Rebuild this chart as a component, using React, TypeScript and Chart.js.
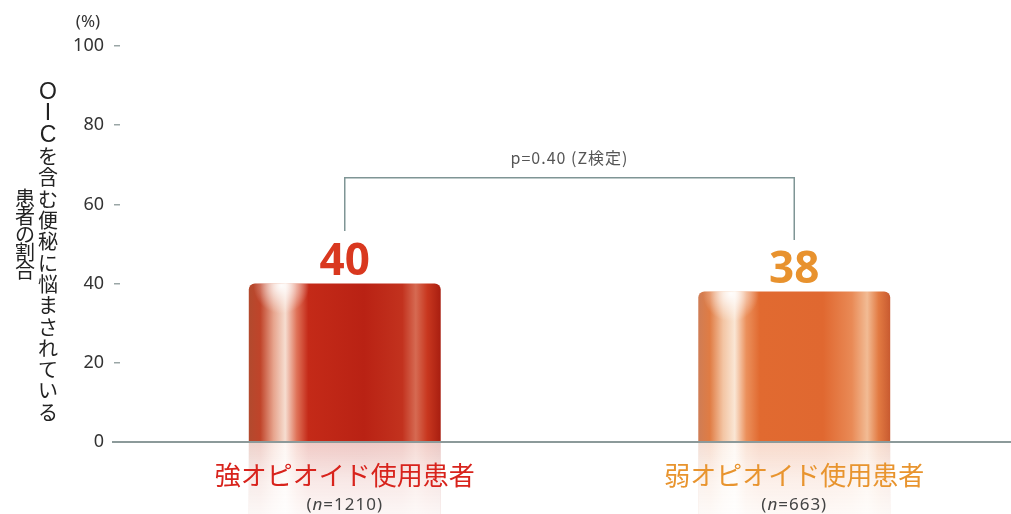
import React, { useEffect, useRef } from "react";
import { Chart, registerables } from "chart.js";

Chart.register(...registerables);

const categories = ["強オピオイド使用患者", "弱オピオイド使用患者"];
const sampleSizes = ["1210", "663"];
const values = [40, 38];
const yTicks = [0, 20, 40, 60, 80, 100];
const bracketTop = 66.7;
const bracketEnds = [53.3, 51];
const pText = "p=0.40 (Z検定)";
const yTitleCol1 = "OIC";
const yTitleCol1b = "を含む便秘に悩まされている";
const yTitleCol2 = "患者の割合";
const unitText = "(%)";

const labelColors = ["#d8231c", "#e8942e"];
const valueColors = ["#d9381f", "#e8922e"];

const BAR_PCT = 0.427;
const JP = '"Noto Sans CJK JP", "Noto Sans", sans-serif';

const redStops: [number, string][] = [
  [0, "#b24a2e"],
  [0.06, "#c0442a"],
  [0.13, "#e7a58e"],
  [0.19, "#f6ddd0"],
  [0.25, "#df7258"],
  [0.31, "#c42a18"],
  [0.6, "#b92214"],
  [0.8, "#c2321e"],
  [0.87, "#d66a52"],
  [0.93, "#c8371f"],
  [1, "#a81e10"],
];
const orangeStops: [number, string][] = [
  [0, "#cf7d55"],
  [0.06, "#e07c44"],
  [0.13, "#f3c5a4"],
  [0.19, "#fae6d4"],
  [0.25, "#eb905c"],
  [0.32, "#e16a30"],
  [0.65, "#e06830"],
  [0.8, "#e98a56"],
  [0.88, "#f2bb94"],
  [0.94, "#e27a42"],
  [1, "#c85a30"],
];
const stopsFor = [redStops, orangeStops];

function barGeom(chart: any, i: number) {
  const xs = chart.scales.x;
  const cx = xs.getPixelForValue(i);
  const w = (chart.chartArea.width / categories.length) * BAR_PCT;
  return { x0: cx - w / 2, x1: cx + w / 2, cx, w };
}

function makeGradient(ctx: CanvasRenderingContext2D, x0: number, x1: number, stops: [number, string][]) {
  const g = ctx.createLinearGradient(x0, 0, x1, 0);
  stops.forEach(([o, c]) => g.addColorStop(o, c));
  return g;
}

const decorPlugin = {
  id: "decor",
  beforeDraw(chart: any) {
    const ctx = chart.ctx as CanvasRenderingContext2D;
    const ys = chart.scales.y;
    const base = ys.getPixelForValue(0);
    const H = chart.height;
    ctx.save();
    categories.forEach((_, i) => {
      const { x0, x1, w } = barGeom(chart, i);
      ctx.globalAlpha = 0.28;
      ctx.fillStyle = makeGradient(ctx, x0, x1, stopsFor[i]);
      ctx.fillRect(x0, base, w, H - base);
      ctx.globalAlpha = 1;
      const fade = ctx.createLinearGradient(0, base, 0, H);
      fade.addColorStop(0, "rgba(255,255,255,0.1)");
      fade.addColorStop(0.5, "rgba(255,255,255,0.6)");
      fade.addColorStop(1, "rgba(255,255,255,0.85)");
      ctx.fillStyle = fade;
      ctx.fillRect(x0, base, w, H - base);
    });
    ctx.restore();
  },
  afterDatasetsDraw(chart: any) {
    const ctx = chart.ctx as CanvasRenderingContext2D;
    const ys = chart.scales.y;
    const meta = chart.getDatasetMeta(0);
    const base = ys.getPixelForValue(0);
    ctx.save();
    ctx.strokeStyle = "#8c9a9a";
    ctx.lineWidth = 2;
    ctx.beginPath();
    ctx.moveTo(112, base);
    ctx.lineTo(chart.width, base);
    ctx.stroke();

    meta.data.forEach((bar: any, i: number) => {
      const { x0, w, cx } = barGeom(chart, i);
      const top = bar.y;
      ctx.save();
      ctx.beginPath();
      ctx.rect(x0, top, w, base - top);
      ctx.clip();
      const gx = x0 + w * 0.17;
      const rg = ctx.createRadialGradient(gx, top + 2, 0, gx, top + 2, 28);
      rg.addColorStop(0, "rgba(255,255,255,0.95)");
      rg.addColorStop(1, "rgba(255,255,255,0)");
      ctx.fillStyle = rg;
      ctx.fillRect(x0, top, w, 40);
      ctx.restore();

      ctx.fillStyle = valueColors[i];
      ctx.font = `bold 44px "Noto Sans", sans-serif`;
      ctx.textAlign = "center";
      ctx.textBaseline = "alphabetic";
      ctx.fillText(String(values[i]), cx, top - 9);

      ctx.save();
      (ctx as any).letterSpacing = "1px";
      ctx.fillStyle = "#444";
      ctx.textBaseline = "middle";
      const pre = "(";
      const nn = "n";
      const post = `=${sampleSizes[i]})`;
      const reg = `17px "Noto Sans", sans-serif`;
      const ita = `italic 17px "Noto Sans", sans-serif`;
      ctx.font = reg;
      const wPre = ctx.measureText(pre).width;
      const wPost = ctx.measureText(post).width;
      ctx.font = ita;
      const wN = ctx.measureText(nn).width;
      const total = wPre + wN + wPost;
      let sx = cx - total / 2;
      const sy = 505;
      ctx.textAlign = "left";
      ctx.font = reg;
      ctx.fillText(pre, sx, sy);
      sx += wPre;
      ctx.font = ita;
      ctx.fillText(nn, sx, sy);
      sx += wN;
      ctx.font = reg;
      ctx.fillText(post, sx, sy);
      ctx.restore();
    });

    const xL = chart.scales.x.getPixelForValue(0);
    const xR = chart.scales.x.getPixelForValue(1);
    const yT = ys.getPixelForValue(bracketTop);
    ctx.strokeStyle = "#7f9595";
    ctx.lineWidth = 1.5;
    ctx.beginPath();
    ctx.moveTo(xL, ys.getPixelForValue(bracketEnds[0]));
    ctx.lineTo(xL, yT);
    ctx.lineTo(xR, yT);
    ctx.lineTo(xR, ys.getPixelForValue(bracketEnds[1]));
    ctx.stroke();
    ctx.save();
    (ctx as any).letterSpacing = "1px";
    ctx.fillStyle = "#555";
    ctx.font = `16px ${JP}`;
    ctx.textAlign = "center";
    ctx.textBaseline = "middle";
    ctx.fillText(pText, (xL + xR) / 2, yT - 20);
    ctx.restore();

    ctx.fillStyle = "#333";
    ctx.textAlign = "center";
    ctx.textBaseline = "middle";
    ctx.font = `17px "Noto Sans", sans-serif`;
    ctx.fillText(unitText, 88, 22);

    ctx.fillStyle = "#222";
    const step1 = 21.3;
    const col1 = Array.from(yTitleCol1).concat(Array.from(yTitleCol1b));
    col1.forEach((ch, k) => {
      ctx.font = k < yTitleCol1.length ? `23px "Liberation Sans", sans-serif` : `20px ${JP}`;
      ctx.fillText(ch, 48, 82 + step1 / 2 + k * step1);
    });
    ctx.font = `20px ${JP}`;
    const step2 = 17.8;
    Array.from(yTitleCol2).forEach((ch, k) => {
      ctx.fillText(ch, 25, 190 + step2 / 2 + k * step2);
    });
    ctx.restore();
  },
};

export default function App() {
  const ref = useRef<HTMLCanvasElement>(null);
  useEffect(() => {
    if (!ref.current) return;
    const chart = new Chart(ref.current, {
      type: "bar",
      data: {
        labels: categories,
        datasets: [
          {
            data: values,
            backgroundColor: (c: any) => {
              const ch = c.chart;
              if (!ch.chartArea || !ch.scales.x) return "#c0281a";
              const { x0, x1 } = barGeom(ch, c.dataIndex);
              return makeGradient(ch.ctx, x0, x1, stopsFor[c.dataIndex]);
            },
            borderWidth: 0,
            borderRadius: 6,
            borderSkipped: "bottom",
            categoryPercentage: 1,
            barPercentage: BAR_PCT,
          },
        ],
      },
      options: {
        responsive: false,
        animation: false,
        devicePixelRatio: 1,
        layout: { padding: { top: 46, right: 0, bottom: 0, left: 0 } },
        plugins: { legend: { display: false }, tooltip: { enabled: false } },
        scales: {
          x: {
            type: "category",
            grid: { display: false, drawTicks: false },
            border: { display: false },
            ticks: {
              color: (c: any) => labelColors[c.index],
              font: { size: 26, family: JP },
              padding: 18,
            },
            afterFit: (axis: any) => {
              axis.height = 72;
            },
          },
          y: {
            min: 0,
            max: 100,
            afterBuildTicks: (axis: any) => {
              axis.ticks = yTicks.map((v) => ({ value: v }));
            },
            grid: { drawOnChartArea: false, tickLength: 6, color: "#9aa6a6", lineWidth: 1.5 },
            border: { display: false },
            ticks: {
              color: "#333",
              font: { size: 18, family: '"Noto Sans", sans-serif' },
              padding: 10,
            },
            afterFit: (axis: any) => {
              axis.width = 120;
            },
          },
        },
      },
      plugins: [decorPlugin],
    });
    return () => chart.destroy();
  }, []);
  return (
    <div style={{ position: "fixed", left: 0, top: 0, width: 1011, height: 514, overflow: "hidden", background: "#fff" }}>
      <canvas ref={ref} width={1019} height={514} style={{ display: "block", width: 1019, height: 514 }} />
    </div>
  );
}
